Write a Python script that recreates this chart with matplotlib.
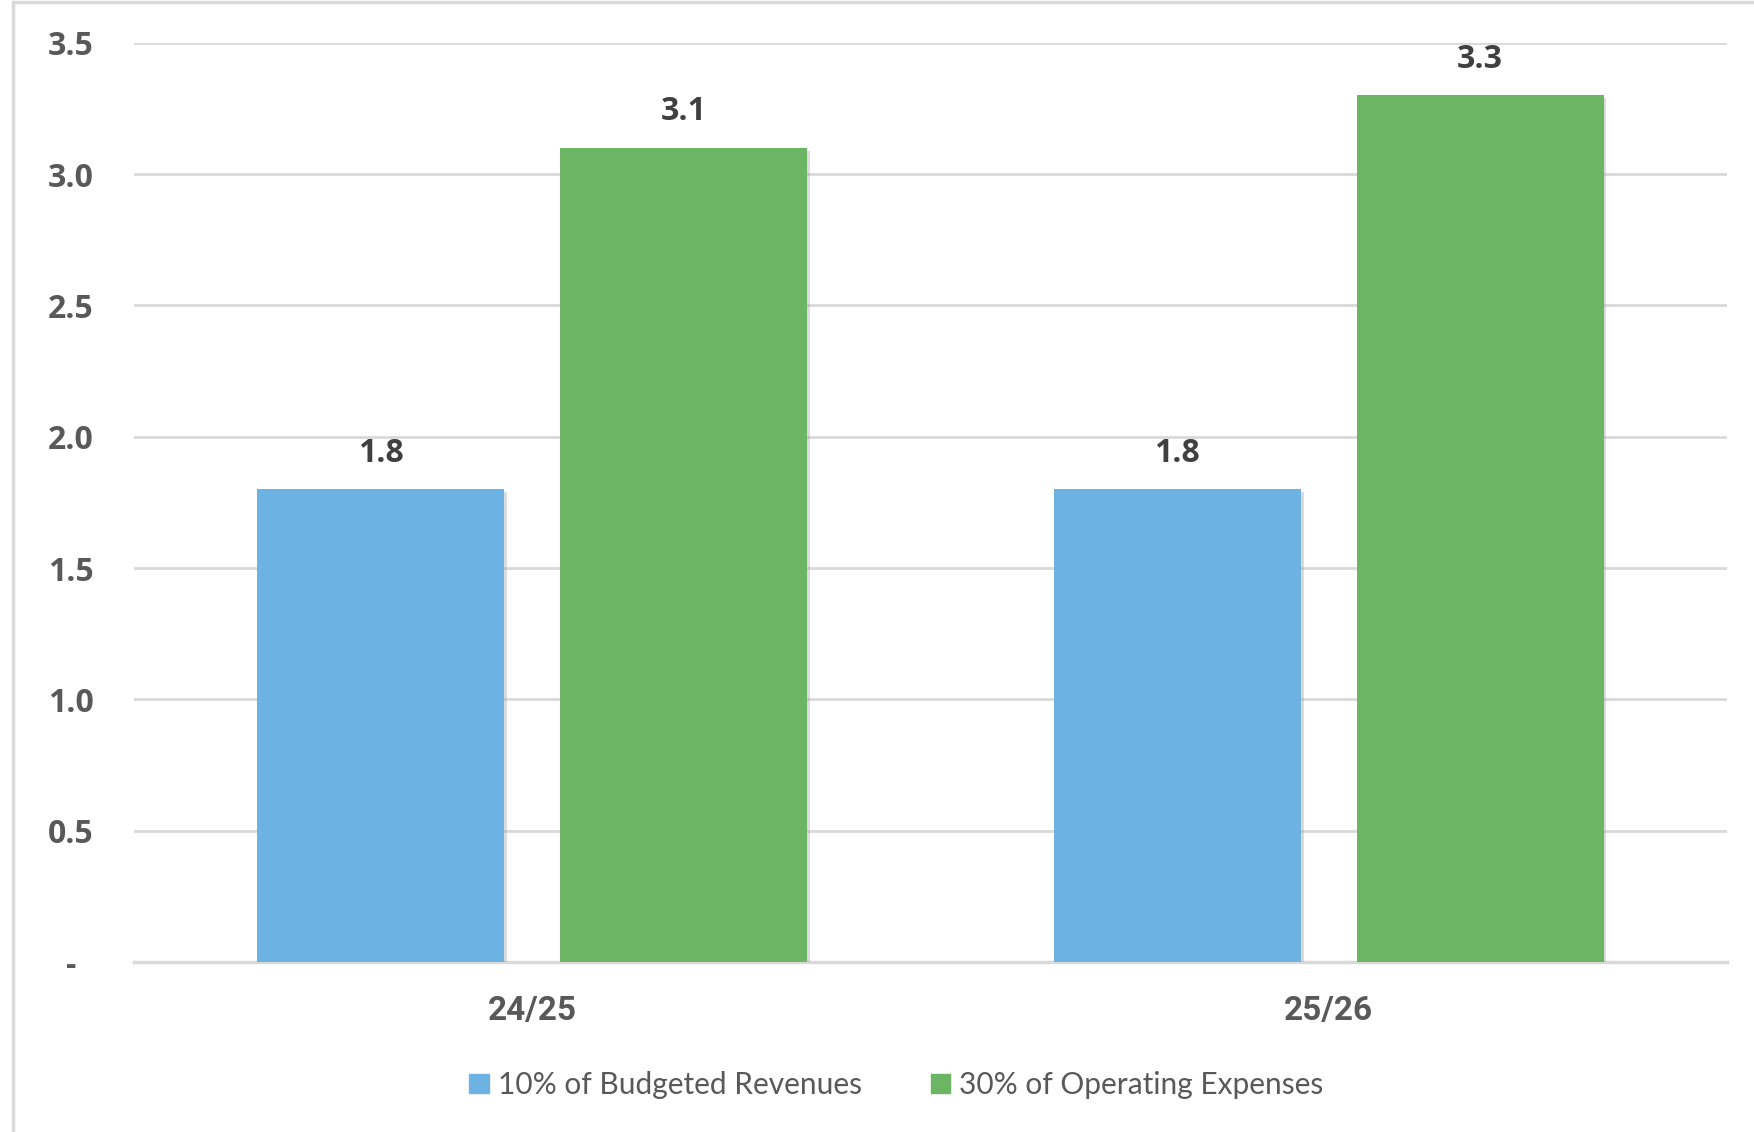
import numpy as np
import matplotlib
matplotlib.use("Agg")
import matplotlib.pyplot as plt
import matplotlib.patheffects as pe
import matplotlib.transforms as mtransforms
from matplotlib.patches import Rectangle, Patch

categories = ["24/25", "25/26"]
revenues = [1.8, 1.8]
expenses = [3.1, 3.3]
series_names = ["10% of Budgeted Revenues", "30% of Operating Expenses"]
yticks = [0, 0.5, 1.0, 1.5, 2.0, 2.5, 3.0, 3.5]
ytick_labels = ["-", "0.5", "1.0", "1.5", "2.0", "2.5", "3.0", "3.5"]

blue = "#6cb3e3"
green = "#6bb565"
grid = "#d9d9d9"

W, H = 1754, 1132
fig = plt.figure(figsize=(W / 100, H / 100), dpi=100)
ax = fig.add_axes([134 / W, 1 - 962 / H, (1727 - 134) / W, (962 - 42.7) / H])

x = np.arange(len(categories))
width = 0.31
offset = 0.19
shadow = [pe.SimplePatchShadow(offset=(2, -2), shadow_rgbFace="#9a9a9a", alpha=0.35), pe.Normal()]
b1 = ax.bar(x - offset, revenues, width, color=blue, zorder=3, path_effects=shadow)
b2 = ax.bar(x + offset, expenses, width, color=green, zorder=3, path_effects=shadow)

for bars, vals in ((b1, revenues), (b2, expenses)):
    for rect, v in zip(bars, vals):
        ax.annotate(f"{v:.1f}", (rect.get_x() + rect.get_width() / 2, v),
                    xytext=(0, 14), textcoords="offset points", ha="center", va="bottom",
                    fontsize=23, fontweight="bold", color="#404040", family="Open Sans")

ax.set_xlim(-0.5, 1.5)
ax.set_ylim(0, 3.5)
ax.set_yticks(yticks)
ax.set_yticklabels(ytick_labels, fontsize=23, fontweight="bold", color="#595959", family="Open Sans")
ax.set_xticks(x)
ax.set_xticklabels(categories, fontsize=24, fontweight="bold", color="#595959", family="Roboto")
ax.tick_params(axis="y", length=0, pad=29)
ax.tick_params(axis="x", length=0, pad=24)
ax.yaxis.grid(True, color=grid, linewidth=2, zorder=0)
ax.set_axisbelow(True)
for s in ["top", "right", "left"]:
    ax.spines[s].set_visible(False)
ax.spines["bottom"].set_color(grid)
ax.spines["bottom"].set_linewidth(2.5)

# the zero dash sits a bit left, like an accounting format
zero_lbl = ax.get_yticklabels()[0]
zero_lbl.set_transform(zero_lbl.get_transform() + mtransforms.ScaledTranslation(-0.17, 0, fig.dpi_scale_trans))

handles = [Patch(color=blue), Patch(color=green)]
leg = fig.legend(handles, series_names, loc="center", bbox_to_anchor=(0.511, 1 - 1085 / H), ncol=2,
                 frameon=False, prop={"family": "Lato", "size": 21.5}, handlelength=0.65,
                 handleheight=0.65, handletextpad=0.3, columnspacing=2.3)
for t in leg.get_texts():
    t.set_color("#595959")

fig.patches.append(Rectangle((13 / W, -0.05), 1.1, 1.05 - 2 / H, transform=fig.transFigure,
                             fill=False, edgecolor="#d9d9d9", linewidth=2.5))

fig.savefig("out.png", dpi=100)
